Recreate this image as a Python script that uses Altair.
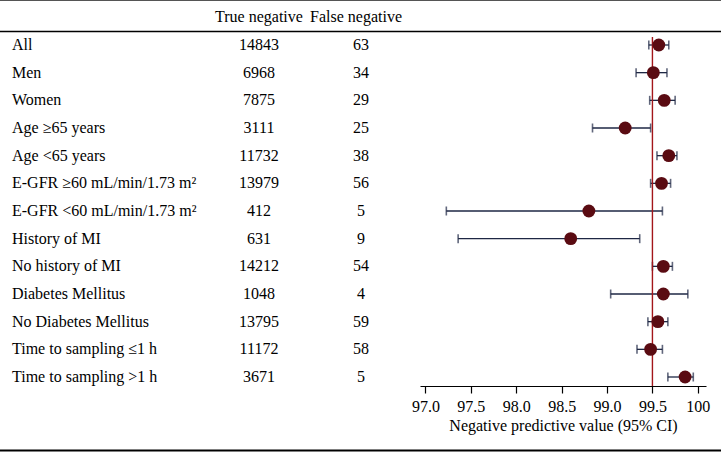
import altair as alt
import pandas as pd

# Subgroups, counts and negative predictive value (%) with 95% CI
labels = [
    "All", "Men", "Women", "Age \u226565 years", "Age <65 years",
    "E-GFR \u226560 mL/min/1.73 m\u00b2", "E-GFR <60 mL/min/1.73 m\u00b2",
    "History of MI", "No history of MI", "Diabetes Mellitus",
    "No Diabetes Mellitus", "Time to sampling \u22641 h", "Time to sampling >1 h",
]
true_neg = [14843, 6968, 7875, 3111, 11732, 13979, 412, 631, 14212, 1048, 13795, 11172, 3671]
false_neg = [63, 34, 29, 25, 38, 56, 5, 9, 54, 4, 59, 58, 5]
npv = [99.57, 99.51, 99.63, 99.20, 99.68, 99.60, 98.80, 98.60, 99.62, 99.62, 99.56, 99.48, 99.86]
ci_low = [99.46, 99.32, 99.47, 98.84, 99.55, 99.48, 97.23, 97.36, 99.50, 99.04, 99.45, 99.33, 99.67]
ci_high = [99.68, 99.66, 99.75, 99.48, 99.77, 99.70, 99.61, 99.36, 99.72, 99.89, 99.67, 99.61, 99.95]
x_ticks = [97.0, 97.5, 98.0, 98.5, 99.0, 99.5, 100.0]
reference = 99.5

df = pd.DataFrame({
    "row": list(range(len(labels))),
    "label": labels,
    "tn": [str(v) for v in true_neg],
    "fn": [str(v) for v in false_neg],
    "npv": npv,
    "lo": ci_low,
    "hi": ci_high,
})

FONT = "Liberation Serif"
FS = 16
W, H = 721, 386

axis_style = dict(
    domainColor="black", domainWidth=1.2,
    tickColor="black", tickSize=7, tickWidth=1.2,
    labelFont=FONT, labelFontSize=16, labelColor="black", labelPadding=5,
    titleFont=FONT, titleFontSize=16, titleFontWeight="normal", titleColor="black", titlePadding=3,
)

y_enc = alt.Y("row:Q", scale=alt.Scale(domain=[0, 12], range=[45, 377]), axis=None)
x_scale = alt.Scale(domain=[96.94, 100.09], range=[420, 706], nice=False, zero=False)
x_axis = alt.Axis(
    values=x_ticks, grid=False,
    labelExpr="datum.value == 100 ? '100' : format(datum.value, '.1f')",
    title="Negative predictive value (95% CI)", **axis_style)


def xq(field):
    return alt.X(field, scale=x_scale, axis=x_axis)


base = alt.Chart(df)
text_style = dict(baseline="middle", font=FONT, fontSize=FS, color="black")

label_col = base.mark_text(align="left", **text_style).encode(
    x=alt.value(12), y=y_enc, text="label:N")
tn_col = base.mark_text(align="center", **text_style).encode(
    x=alt.value(259), y=y_enc, text="tn:N")
fn_col = base.mark_text(align="center", **text_style).encode(
    x=alt.value(361), y=y_enc, text="fn:N")

head_tn = alt.Chart(pd.DataFrame({"h": ["True negative"]})).mark_text(align="center", **text_style).encode(
    x=alt.value(259), y=alt.value(17), text="h:N")
head_fn = alt.Chart(pd.DataFrame({"h": ["False negative"]})).mark_text(align="center", **text_style).encode(
    x=alt.value(356), y=alt.value(17), text="h:N")

ci_rule = base.mark_rule(color="#1e2744", strokeWidth=1.3).encode(
    x=xq("lo:Q"), x2="hi:Q", y=y_enc)
cap_lo = base.mark_tick(orient="vertical", color="#1e2744", thickness=1.6, size=9).encode(
    x=xq("lo:Q"), y=y_enc)
cap_hi = base.mark_tick(orient="vertical", color="#1e2744", thickness=1.6, size=9).encode(
    x=xq("hi:Q"), y=y_enc)
ref_line = alt.Chart(pd.DataFrame({"ref": [reference]})).mark_rule(color="#a3161a", strokeWidth=1.4).encode(
    x=xq("ref:Q"), y=alt.value(37), y2=alt.value(386))
points = base.mark_circle(size=165, color="#5a0b12", opacity=1).encode(
    x=xq("npv:Q"), y=y_enc)

# table borders
def hline(ypix, color, width):
    return alt.Chart(pd.DataFrame({"k": [0]})).mark_rule(color=color, strokeWidth=width).encode(
        x=alt.value(0), x2=alt.value(W), y=alt.value(ypix))


chart = alt.layer(
    hline(0.5, "#555555", 1.2), hline(31.5, "black", 1.3), hline(450.5, "black", 2.0),
    head_tn, head_fn, label_col, tn_col, fn_col,
    ci_rule, cap_lo, cap_hi, ref_line, points
).properties(
    width=W, height=H,
    background="white",
    autosize=alt.AutoSizeParams(type="none"),
    padding={"left": 0, "top": 0, "right": 0, "bottom": 452 - H},
).configure_view(
    strokeWidth=0, stroke="transparent"
).configure_axisX(**axis_style)

chart.save("out.html", embed_options={"renderer": "svg", "actions": False})
